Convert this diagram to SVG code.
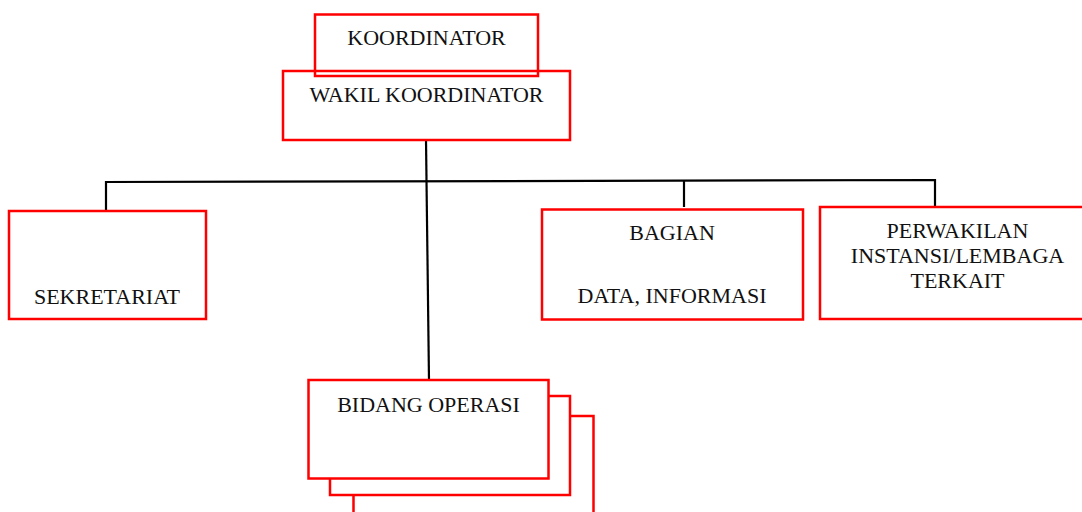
<svg xmlns="http://www.w3.org/2000/svg" width="1082" height="512" viewBox="0 0 1082 512">
<style>
.box{fill:none;stroke:#ff0000;stroke-width:2.5}
.boxw{fill:#ffffff;stroke:#ff0000;stroke-width:2.5}
.ln{fill:none;stroke:#000000;stroke-width:2.2}
.t{font-family:'Liberation Serif','Times New Roman',serif;font-size:22px;fill:#111111;text-anchor:middle}
</style>
<rect width="1082" height="512" fill="#ffffff"/>
<g id="connectors">
<line class="ln" x1="426" y1="140" x2="429" y2="380"/>
<polyline class="ln" points="106,210 106,182 935,180 935,207"/>
<line class="ln" x1="684" y1="180" x2="684" y2="207"/>
</g>
<g id="koordinator">
<rect class="box" x="315" y="14.5" width="223" height="61.5"/>
<text class="t" x="426.5" y="45">KOORDINATOR</text>
</g>
<g id="wakil-koordinator">
<rect class="box" x="283" y="71" width="287" height="69"/>
<text class="t" x="426.5" y="102">WAKIL KOORDINATOR</text>
</g>
<g id="sekretariat">
<rect class="box" x="9" y="211" width="197" height="108"/>
<text class="t" x="107" y="304">SEKRETARIAT</text>
</g>
<g id="bagian-data-informasi">
<rect class="box" x="542" y="209.5" width="261" height="110"/>
<text class="t" x="672" y="240">BAGIAN</text>
<text class="t" x="672" y="303">DATA, INFORMASI</text>
</g>
<g id="perwakilan">
<rect class="box" x="820" y="207" width="266" height="112"/>
<text class="t" x="957.5" y="238">PERWAKILAN</text>
<text class="t" x="957.5" y="262.5">INSTANSI/LEMBAGA</text>
<text class="t" x="957.5" y="288">TERKAIT</text>
</g>
<g id="bidang-operasi">
<rect class="boxw" x="353.5" y="416" width="240" height="110"/>
<rect class="boxw" x="330" y="396" width="240" height="99"/>
<rect class="boxw" x="308.5" y="380" width="240" height="98.5"/>
<text class="t" x="428.5" y="411.5">BIDANG OPERASI</text>
</g>
</svg>
